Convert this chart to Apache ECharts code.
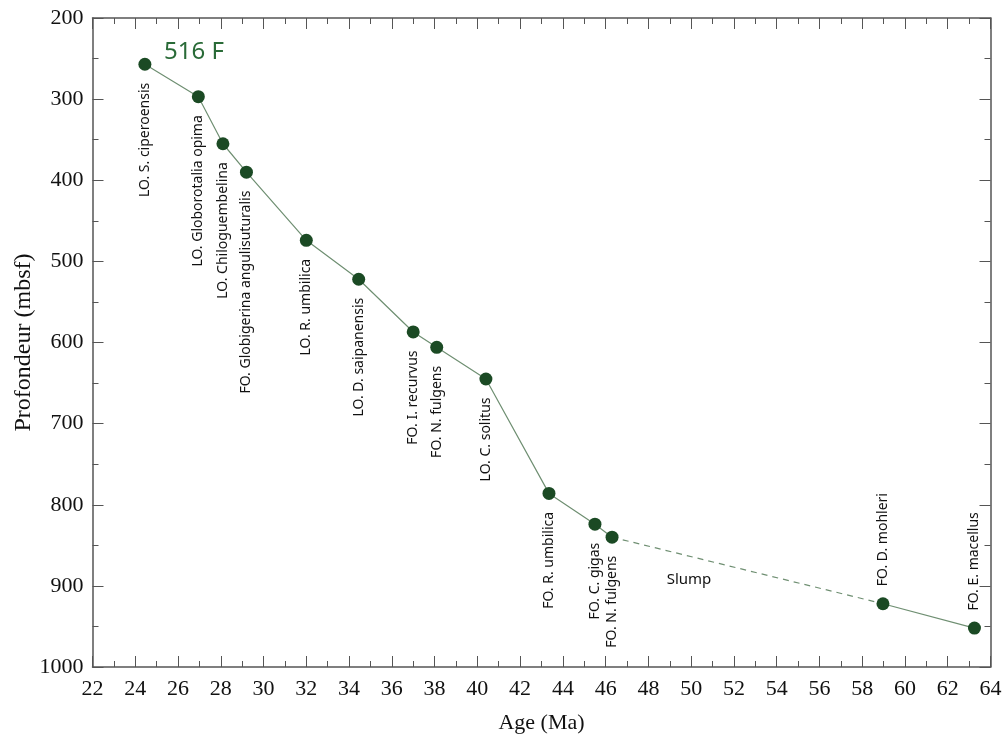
<!DOCTYPE html>
<html>
<head>
<meta charset="utf-8">
<script src="https://cdn.jsdelivr.net/npm/echarts@6/dist/echarts.min.js"></script>
<style>
html,body{margin:0;padding:0;background:#fff;}
#chart{width:1003px;height:734px;}
</style>
</head>
<body>
<div id="chart"></div>
<script>
const ages   = [24.45, 26.95, 28.1, 29.2, 32.0, 34.45, 37.0, 38.1, 40.4, 43.35, 45.5, 46.3, 58.97, 63.25];
const depths = [257, 297, 355, 390, 474, 522, 587, 606, 645, 786, 824, 840, 922, 952];
const markers = [
  'LO. S. ciperoensis', 'LO. Globorotalia opima', 'LO. Chiloguembelina',
  'FO. Globigerina angulisuturalis', 'LO. R. umbilica', 'LO. D. saipanensis',
  'FO. I. recurvus', 'FO. N. fulgens', 'LO. C. solitus', 'FO. R. umbilica',
  'FO. C. gigas', 'FO. N. fulgens', 'FO. D. mohleri', 'FO. E. macellus'
];
const labelAbove = [false,false,false,false,false,false,false,false,false,false,false,false,true,true];
const slumpFrom = 11, slumpTo = 12;
const siteName = '516 F';
const slumpText = 'Slump';
const slumpPos = [49.9, 893];
const xTicks = {min: 22, max: 64, interval: 2};
const yTicks = {min: 200, max: 1000, interval: 100};

const chart = echarts.init(document.getElementById('chart'));

const lineColor = '#6f8f72';
const dotColor = '#1b4a24';
const axisColor = '#555';
const serif = '"Liberation Serif", "DejaVu Serif", serif';
const sans = '"Noto Sans", "Open Sans", sans-serif';

function pts(a, b) {
  const out = [];
  for (let i = a; i <= b; i++) out.push([ages[i], depths[i]]);
  return out;
}
const dotData = ages.map((a, i) => ({
  value: [a, depths[i]],
  label: labelAbove[i]
    ? {show: true, formatter: markers[i], position: 'top', rotate: 90, align: 'left', verticalAlign: 'middle', distance: 11}
    : {show: true, formatter: markers[i], position: 'bottom', rotate: 90, align: 'right', verticalAlign: 'middle', distance: 12}
}));

const axBase = {
  axisLine: {show: true, onZero: false, lineStyle: {color: axisColor, width: 1.5}},
  splitLine: {show: false},
  minorTick: {show: true, splitNumber: 2, length: 6, lineStyle: {color: axisColor, width: 1}},
  axisTick: {show: true, inside: true, length: 11, lineStyle: {color: axisColor, width: 1}}
};
const plain = v => String(v);

chart.setOption({
  animation: false,
  backgroundColor: '#fff',
  title: {
    text: siteName, left: 159, top: 35,
    textStyle: {fontFamily: sans, fontSize: 24, fontWeight: 'normal', color: '#2a6b38'}
  },
  grid: {left: 92.5, right: 12.5, top: 18, bottom: 67, containLabel: false, outerBoundsMode: 'none'},
  xAxis: [
    Object.assign({}, axBase, {
      type: 'value', position: 'bottom', min: xTicks.min, max: xTicks.max, interval: xTicks.interval,
      axisLabel: {fontFamily: serif, fontSize: 22, color: '#111', margin: 11, formatter: plain},
      name: 'Age (Ma)', nameLocation: 'middle', nameGap: 45, nameMoveOverlap: false,
      nameTextStyle: {fontFamily: serif, fontSize: 22, color: '#111'}
    }),
    Object.assign({}, axBase, {
      type: 'value', position: 'top', min: xTicks.min, max: xTicks.max, interval: xTicks.interval,
      axisLabel: {show: false}
    })
  ],
  yAxis: [
    Object.assign({}, axBase, {
      type: 'value', position: 'left', inverse: true, min: yTicks.min, max: yTicks.max, interval: yTicks.interval,
      axisLabel: {fontFamily: serif, fontSize: 22, color: '#111', margin: 9, formatter: plain},
      name: 'Profondeur (mbsf)', nameLocation: 'middle', nameGap: 57, nameRotate: 90, nameMoveOverlap: false,
      nameTextStyle: {fontFamily: serif, fontSize: 24, color: '#111'}
    }),
    Object.assign({}, axBase, {
      type: 'value', position: 'right', inverse: true, min: yTicks.min, max: yTicks.max, interval: yTicks.interval,
      axisLabel: {show: false}
    })
  ],
  series: [
    {type: 'line', data: pts(0, slumpFrom), symbol: 'none', lineStyle: {color: lineColor, width: 1.2}, z: 2},
    {type: 'line', data: pts(slumpFrom, slumpTo), symbol: 'none', lineStyle: {color: lineColor, width: 1.2, type: [6, 5]}, z: 2},
    {type: 'line', data: pts(slumpTo, ages.length - 1), symbol: 'none', lineStyle: {color: lineColor, width: 1.2}, z: 2},
    {
      type: 'scatter', data: dotData, symbol: 'circle', symbolSize: 13,
      itemStyle: {color: dotColor, opacity: 1}, z: 3,
      label: {fontFamily: sans, fontSize: 14, color: '#111'}
    },
    {
      type: 'scatter', data: [slumpPos], symbolSize: 0, silent: true, itemStyle: {opacity: 1},
      label: {show: true, position: 'inside', formatter: slumpText, fontFamily: sans, fontSize: 15, color: '#111'}
    }
  ]
});
</script>
</body>
</html>
